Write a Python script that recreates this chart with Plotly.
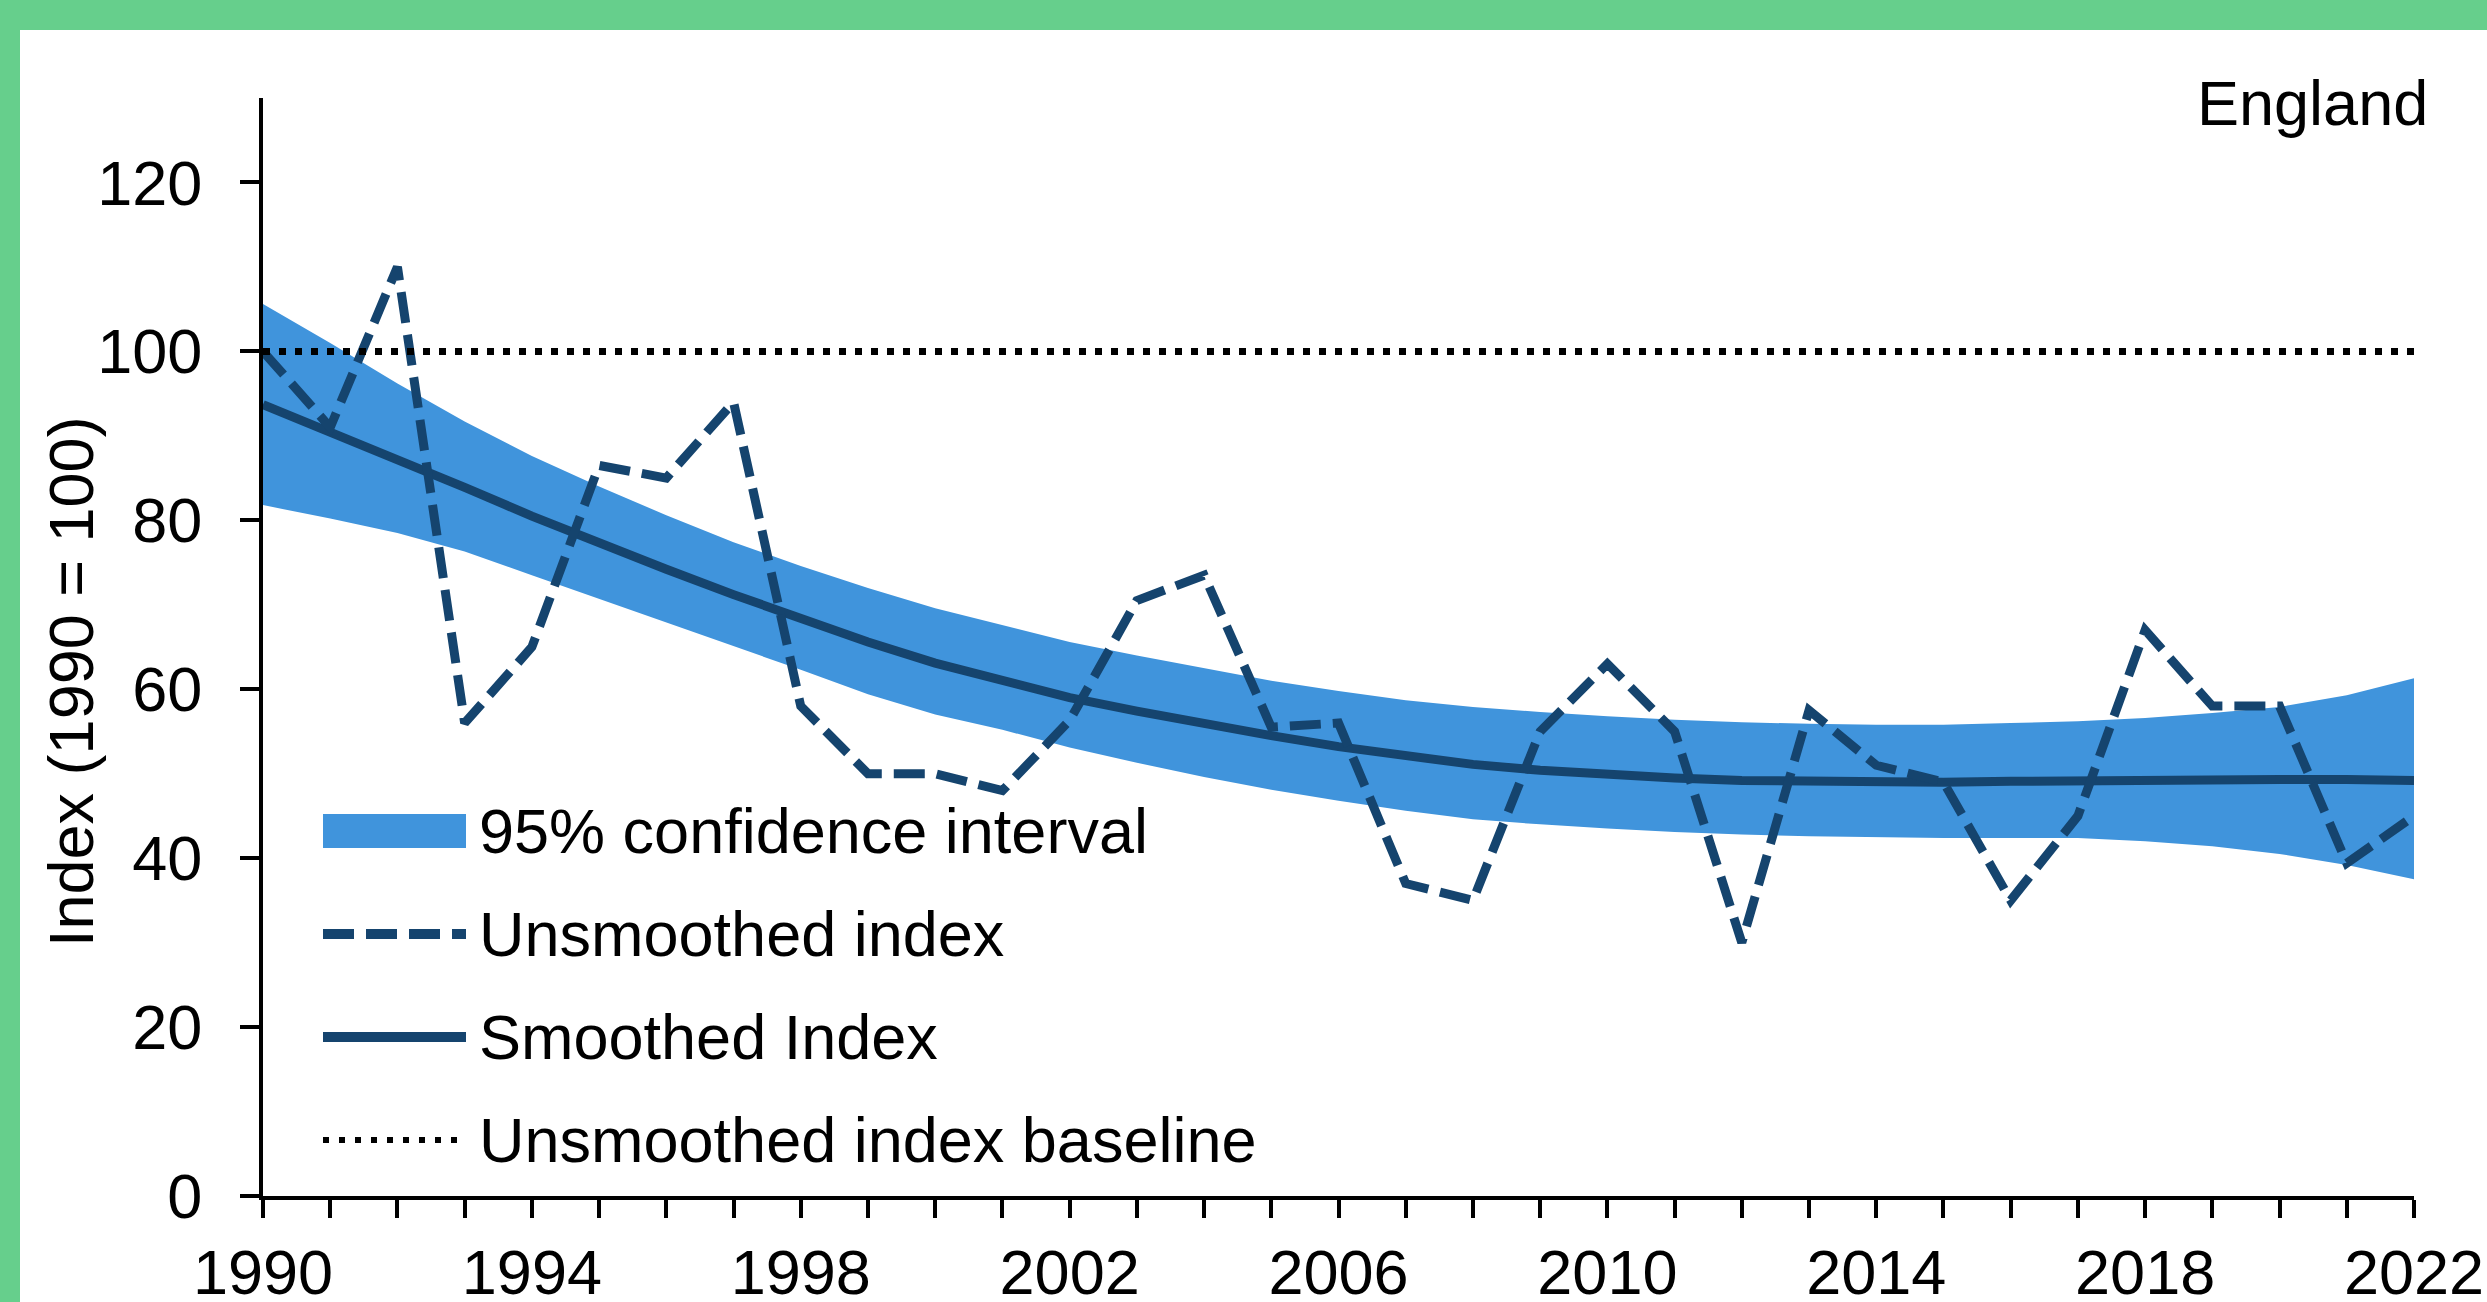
import plotly.graph_objects as go

# ---------------- data ----------------
years = list(range(1990, 2023))
unsmoothed = [100, 91, 110, 56, 65, 86.5, 85, 94, 58, 50, 50, 48, 56.3, 70.5, 73.5,
              55.5, 56, 37, 35, 55, 63, 55, 30, 57.5, 51, 49, 35, 45, 67, 58, 58, 39.4, 45]
smoothed = [93.7, 90.5, 87.2, 83.9, 80.5, 77.3, 74.2, 71.2, 68.3, 65.6, 63.1, 61.0, 59.0,
            57.4, 55.9, 54.5, 53.2, 52.1, 51.1, 50.4, 49.9, 49.5, 49.2, 49.1, 49.0, 49.0,
            49.1, 49.2, 49.3, 49.3, 49.3, 49.3, 49.2]
ci_upper = [105.6, 101.0, 96.2, 91.7, 87.6, 84.0, 80.6, 77.4, 74.6, 72.0, 69.6, 67.6, 65.6,
            64.0, 62.5, 61.0, 59.8, 58.7, 57.9, 57.3, 56.8, 56.4, 56.1, 55.9, 55.8, 55.8,
            56.0, 56.2, 56.6, 57.2, 57.9, 59.3, 61.3]
ci_lower = [81.8, 80.2, 78.5, 76.3, 73.5, 70.7, 67.9, 65.1, 62.3, 59.4, 57.0, 55.2, 53.1,
            51.3, 49.6, 48.1, 46.8, 45.6, 44.6, 44.0, 43.5, 43.1, 42.8, 42.6, 42.5, 42.4,
            42.4, 42.4, 42.0, 41.4, 40.5, 39.2, 37.5]
baseline_value = 100
baseline = [baseline_value] * len(years)

x_tick_labels = [str(y) if (y - 1990) % 4 == 0 else "" for y in years]
y_tick_vals = [0, 20, 40, 60, 80, 100, 120]

legend_labels = ["95% confidence interval", "Unsmoothed index", "Smoothed Index",
                 "Unsmoothed index baseline"]
region_label = "England"
y_title = "Index (1990 = 100)"

# ---------------- style ----------------
W, H = 2487, 1302
L, R, T, B = 263, 73, 98, 106
PW, PH = W - L - R, H - T - B
FONT = "Liberation Sans, Arial, Helvetica, sans-serif"
FS = 63
NAVY = "#15446E"
BLUE = "#4094DC"
GREEN = "#66CF8C"
DASH = "31px,12px"


def px(xp):
    return (xp - L) / PW


def py(yp):
    return (H - B - yp) / PH


fig = go.Figure()
fig.add_trace(go.Scatter(x=years, y=ci_lower, mode="lines", line=dict(width=0, color=BLUE),
                         hoverinfo="skip", showlegend=False))
fig.add_trace(go.Scatter(x=years, y=ci_upper, mode="lines", line=dict(width=0, color=BLUE),
                         fill="tonexty", fillcolor=BLUE, name=legend_labels[0], showlegend=False))
fig.add_trace(go.Scatter(x=years, y=smoothed, mode="lines", line=dict(width=9, color=NAVY),
                         name=legend_labels[2], showlegend=False))
fig.add_trace(go.Scatter(x=years, y=unsmoothed, mode="lines",
                         line=dict(width=9, color=NAVY, dash=DASH),
                         name=legend_labels[1], showlegend=False))
fig.add_trace(go.Scatter(x=years, y=baseline, mode="lines",
                         line=dict(width=7, color="black", dash="7px,9px"),
                         name=legend_labels[3], showlegend=False))

shapes = [
    dict(type="rect", xref="paper", yref="paper", x0=px(0), x1=px(W), y0=py(0), y1=py(30),
         fillcolor=GREEN, line=dict(width=0), layer="below"),
    dict(type="rect", xref="paper", yref="paper", x0=px(0), x1=px(20), y0=py(0), y1=py(H),
         fillcolor=GREEN, line=dict(width=0), layer="below"),
]
# manual legend
sx0, sx1 = 323, 466
text_x = 477
rows = [831, 934, 1037, 1140]
shapes.append(dict(type="rect", xref="paper", yref="paper", x0=px(sx0), x1=px(sx1),
                   y0=py(rows[0] + 17), y1=py(rows[0] - 17), fillcolor=BLUE, line=dict(width=0)))
shapes.append(dict(type="line", xref="paper", yref="paper", x0=px(sx0), x1=px(sx1),
                   y0=py(rows[1]), y1=py(rows[1]), line=dict(color=NAVY, width=10, dash=DASH)))
shapes.append(dict(type="line", xref="paper", yref="paper", x0=px(sx0), x1=px(sx1),
                   y0=py(rows[2]), y1=py(rows[2]), line=dict(color=NAVY, width=10)))
shapes.append(dict(type="line", xref="paper", yref="paper", x0=px(sx0), x1=px(sx1),
                   y0=py(rows[3]), y1=py(rows[3]), line=dict(color="black", width=6, dash="6px,10px")))

annotations = []
for lab, ry in zip(legend_labels, rows):
    annotations.append(dict(text=lab, xref="paper", yref="paper", x=px(text_x), y=py(ry),
                            xanchor="left", yanchor="middle", showarrow=False,
                            font=dict(family=FONT, size=FS, color="black")))
annotations.append(dict(text=region_label, xref="paper", yref="paper", x=px(2430), y=py(103),
                        xanchor="right", yanchor="middle", showarrow=False,
                        font=dict(family=FONT, size=FS, color="black")))
annotations.append(dict(text=y_title, xref="paper", yref="paper", x=px(71), y=py(682),
                        xanchor="center", yanchor="middle", textangle=-90, showarrow=False,
                        font=dict(family=FONT, size=FS, color="black")))

fig.update_layout(
    width=W, height=H,
    margin=dict(l=L, r=R, t=T, b=B, pad=0, autoexpand=False),
    paper_bgcolor="white", plot_bgcolor="white",
    font=dict(family=FONT, size=FS, color="black"),
    showlegend=False,
    shapes=shapes, annotations=annotations,
    xaxis=dict(range=[1990, 2022], tickmode="array", tickvals=years, ticktext=x_tick_labels,
               ticks="outside", ticklen=18, tickwidth=4, tickcolor="black", automargin=False,
               showline=True, linecolor="black", linewidth=4, showgrid=False, zeroline=False,
               tickfont=dict(family=FONT, size=FS, color="black")),
    yaxis=dict(range=[0, 130], tickmode="array", tickvals=y_tick_vals,
               ticks="outside", ticklen=19, tickwidth=4, tickcolor="black", automargin=False,
               showline=True, linecolor="black", linewidth=4, showgrid=False, zeroline=False,
               ticklabelstandoff=25,
               tickfont=dict(family=FONT, size=FS, color="black")),
)

fig.write_html("out.html", config={"displayModeBar": False},
               post_script="document.body.style.margin='0px';")
